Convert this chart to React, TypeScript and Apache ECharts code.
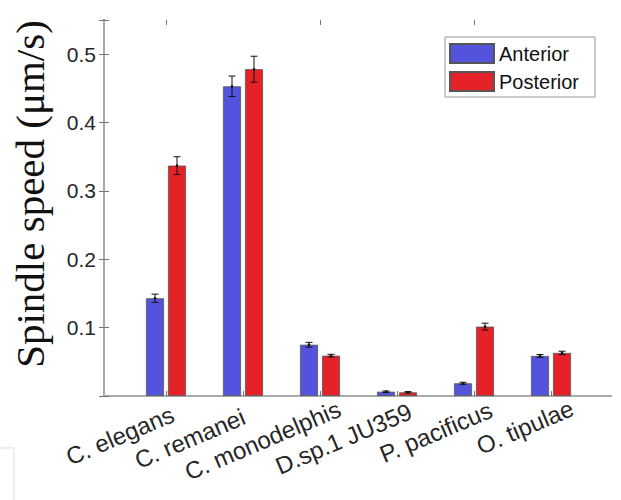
import React, { useEffect, useRef } from "react";
import * as echarts from "echarts";

const categories = ["C. elegans", "C. remanei", "C. monodelphis", "D.sp.1 JU359", "P. pacificus", "O. tipulae"];
const anterior = [0.143, 0.453, 0.075, 0.0063, 0.0186, 0.0586];
const posterior = [0.337, 0.478, 0.059, 0.0054, 0.1015, 0.063];
const anteriorErr = [0.006, 0.015, 0.0035, 0.001, 0.0015, 0.002];
const posteriorErr = [0.013, 0.019, 0.002, 0.001, 0.005, 0.0025];
const yTicks = [0.1, 0.2, 0.3, 0.4, 0.5];

// horizontal nudge (px) of each rotated category label, as in the reference
const labelShift = [8, 1, 23, 16, 20, 25];

const BAR_W = 18;
const BAR_GAP = 4;
const OFFSET = (BAR_W + BAR_GAP) / 2;
const ROT = 23;

const FONT = "'Liberation Sans', Arial, Helvetica, sans-serif";

export default function App() {
  const ref = useRef<HTMLDivElement>(null);
  useEffect(() => {
    document.body.style.margin = "0";
    const chart = echarts.init(ref.current!, undefined, { renderer: "svg" });
    const th = (ROT * Math.PI) / 180;
    const catItems = categories.map((c, i) => {
      const dx = labelShift[i];
      const a = dx * Math.cos(th);
      const b = dx * Math.sin(th);
      return { value: c, textStyle: { padding: [b, -a, -b, 0] } };
    });
    const errData = (vals: number[], errs: number[]) =>
      vals.map((v, i) => [i, v - errs[i], v + errs[i], v]);
    const errSeries = (name: string, vals: number[], errs: number[], sign: number) => ({
      type: "custom",
      name: name + " err",
      xAxisIndex: 0,
      yAxisIndex: 0,
      z: 10,
      silent: true,
      encode: { x: 0, y: [1, 2] },
      data: errData(vals, errs),
      renderItem: (params: any, api: any) => {
        const c = api.value(0);
        const lo = api.coord([c, api.value(1)]);
        const hi = api.coord([c, api.value(2)]);
        const mid = api.coord([c, api.value(3)]);
        const x = lo[0] + sign * OFFSET;
        const cap = 3.5;
        const st = { stroke: "#111", lineWidth: 1 };
        return {
          type: "group",
          children: [
            { type: "line", shape: { x1: x, y1: lo[1], x2: x, y2: hi[1] }, style: st },
            { type: "line", shape: { x1: x - cap, y1: lo[1], x2: x + cap, y2: lo[1] }, style: st },
            { type: "line", shape: { x1: x - cap, y1: hi[1], x2: x + cap, y2: hi[1] }, style: st },
            { type: "circle", shape: { cx: x, cy: mid[1], r: 1.3 }, style: { fill: "#111" } },
          ],
        };
      },
    });
    const option: any = {
      animation: false,
      grid: [
        { left: 127.5, right: 31.5, top: 20, bottom: 104 },
        { left: 104, right: 10, top: 20, bottom: 104 },
      ],
      legend: {
        orient: "vertical",
        left: 445,
        top: 37,
        padding: [6, 16, 5, 4],
        itemWidth: 44,
        itemHeight: 19,
        itemGap: 7,
        borderColor: "#999",
        borderWidth: 1,
        backgroundColor: "#fff",
        textStyle: { fontSize: 20, color: "#111", fontFamily: FONT },
        data: ["Anterior", "Posterior"],
        icon: "rect",
      },
      xAxis: [
        {
          type: "category",
          gridIndex: 0,
          data: catItems,
          position: "bottom",
          axisLine: { show: false },
          axisTick: { show: true, inside: true, alignWithLabel: true, length: 5, lineStyle: { color: "#777" } },
          axisLabel: { rotate: ROT, fontSize: 24, color: "#262626", fontFamily: FONT, margin: 20, interval: 0 },
        },
        {
          type: "value",
          gridIndex: 1,
          min: 0,
          max: 1,
          position: "bottom",
          axisLine: { show: true, lineStyle: { color: "#444", width: 1.5 } },
          axisTick: { show: false },
          axisLabel: { show: false },
          splitLine: { show: false },
        },
        {
          type: "category",
          gridIndex: 0,
          data: categories,
          position: "top",
          axisLine: { show: false },
          axisTick: { show: true, inside: true, alignWithLabel: true, length: 5, lineStyle: { color: "#777" } },
          axisLabel: { show: false },
        },
        {
          type: "value",
          gridIndex: 1,
          min: 0,
          max: 1,
          position: "top",
          axisLine: { show: true, lineStyle: { color: "#aaa", width: 2 } },
          axisTick: { show: false },
          axisLabel: { show: false },
          splitLine: { show: false },
        },
      ],
      yAxis: [
        {
          type: "value",
          gridIndex: 0,
          min: 0,
          max: 0.55,
          show: false,
          splitLine: { show: false },
        },
        {
          type: "value",
          gridIndex: 1,
          min: 0,
          max: 0.55,
          interval: 0.1,
          position: "left",
          axisLine: { show: true, lineStyle: { color: "#aaa", width: 2 } },
          axisTick: { show: true, inside: true, length: 5, lineStyle: { color: "#777" } },
          splitLine: { show: false },
          axisLabel: {
            fontSize: 21,
            color: "#262626",
            fontFamily: FONT,
            margin: 8,
            formatter: (v: number) => {
              const t = yTicks.find((x) => Math.abs(x - v) < 1e-6);
              return t !== undefined ? t.toFixed(1) : "";
            },
          },
        },
        {
          type: "value",
          gridIndex: 1,
          min: 0,
          max: 0.55,
          interval: 0.1,
          position: "right",
          axisLine: { show: true, lineStyle: { color: "#aaa", width: 2 } },
          axisTick: { show: true, inside: true, length: 5, lineStyle: { color: "#777" } },
          splitLine: { show: false },
          axisLabel: { show: false },
        },
      ],
      series: [
        {
          name: "Anterior",
          type: "bar",
          xAxisIndex: 0,
          yAxisIndex: 0,
          data: anterior,
          barWidth: BAR_W,
          barGap: (BAR_GAP / BAR_W) * 100 + "%",
          itemStyle: { color: "#5353DD", borderColor: "#555", borderWidth: 0.8 },
        },
        {
          name: "Posterior",
          type: "bar",
          xAxisIndex: 0,
          yAxisIndex: 0,
          data: posterior,
          barWidth: BAR_W,
          barGap: (BAR_GAP / BAR_W) * 100 + "%",
          itemStyle: { color: "#E62229", borderColor: "#555", borderWidth: 0.8 },
        },
        errSeries("Anterior", anterior, anteriorErr, -1),
        errSeries("Posterior", posterior, posteriorErr, 1),
      ],
      graphic: [
        {
          type: "text",
          x: 30,
          y: 194,
          rotation: Math.PI / 2,
          style: {
            text: "Spindle speed (μm/s)",
            font: "41px 'Liberation Serif', 'DejaVu Serif', serif",
            fill: "#111",
            align: "center",
            verticalAlign: "middle",
          },
        },
        { type: "line", shape: { x1: 0, y1: 448, x2: 14, y2: 448 }, style: { stroke: "#ddd", lineWidth: 1 } },
        { type: "line", shape: { x1: 14, y1: 448, x2: 14, y2: 500 }, style: { stroke: "#ddd", lineWidth: 1 } },
      ],
    };
    chart.setOption(option);
    return () => chart.dispose();
  }, []);
  return <div ref={ref} style={{ width: 621, height: 500 }} />;
}
